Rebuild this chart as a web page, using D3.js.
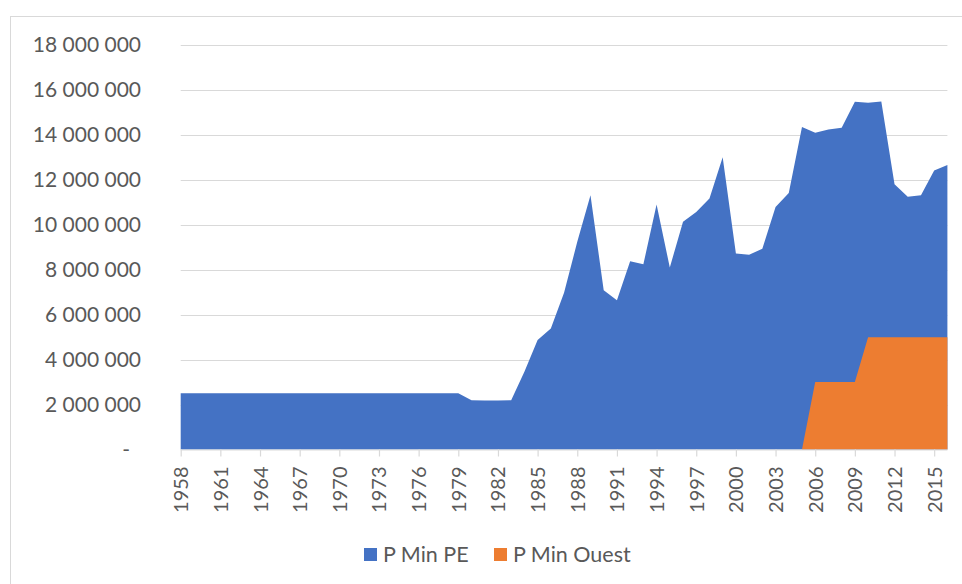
<!DOCTYPE html>
<html>
<head>
<meta charset="utf-8">
<script src="https://cdn.jsdelivr.net/npm/d3@7"></script>
<style>
  html, body { margin: 0; padding: 0; background: #ffffff; }
  svg { display: block; font-family: Lato, "Open Sans", sans-serif; }
</style>
</head>
<body>
<svg id="chart" width="962" height="584"></svg>
<script>
// Years on the category axis
const years = [
  1958, 1959, 1960, 1961, 1962, 1963, 1964, 1965, 1966, 1967,
  1968, 1969, 1970, 1971, 1972, 1973, 1974, 1975, 1976, 1977,
  1978, 1979, 1980, 1981, 1982, 1983, 1984, 1985, 1986, 1987,
  1988, 1989, 1990, 1991, 1992, 1993, 1994, 1995, 1996, 1997,
  1998, 1999, 2000, 2001, 2002, 2003, 2004, 2005, 2006, 2007,
  2008, 2009, 2010, 2011, 2012, 2013, 2014, 2015, 2016
];

// Series "P Min PE"
const pMinPE = [
  2500000, 2500000, 2500000, 2500000, 2500000, 2500000, 2500000, 2500000, 2500000, 2500000,
  2500000, 2500000, 2500000, 2500000, 2500000, 2500000, 2500000, 2500000, 2500000, 2500000,
  2500000, 2500000, 2190000, 2180000, 2180000, 2190000, 3460000, 4870000, 5390000, 6970000,
  9240000, 11310000, 7090000, 6640000, 8380000, 8240000, 10900000, 8100000, 10130000, 10570000,
  11170000, 13010000, 8720000, 8670000, 8930000, 10790000, 11410000, 14350000, 14100000, 14240000,
  14320000, 15470000, 15430000, 15490000, 11800000, 11250000, 11310000, 12420000, 12660000
];

// Series "P Min Ouest"
const pMinOuest = [
  0, 0, 0, 0, 0, 0, 0, 0, 0, 0,
  0, 0, 0, 0, 0, 0, 0, 0, 0, 0,
  0, 0, 0, 0, 0, 0, 0, 0, 0, 0,
  0, 0, 0, 0, 0, 0, 0, 0, 0, 0,
  0, 0, 0, 0, 0, 0, 0, 0, 3000000, 3000000,
  3000000, 3000000, 5000000, 5000000, 5000000, 5000000, 5000000, 5000000, 5000000
];

const seriesNames = ["P Min PE", "P Min Ouest"];
const seriesColors = ["#4472C4", "#ED7D31"];

// Axis ticks
const yTicks = [0, 2000000, 4000000, 6000000, 8000000, 10000000, 12000000, 14000000, 16000000, 18000000];
const xTickYears = [1958, 1961, 1964, 1967, 1970, 1973, 1976, 1979, 1982, 1985, 1988, 1991, 1994, 1997, 2000, 2003, 2006, 2009, 2012, 2015];

const svg = d3.select("#chart");

// Chart frame
svg.append("rect")
  .attr("x", 10.5).attr("y", 16.5)
  .attr("width", 980).attr("height", 600)
  .attr("fill", "none")
  .attr("stroke", "#D9D9D9")
  .attr("stroke-width", 1);

const plot = { left: 180.7, right: 947.4, top: 45, bottom: 449.5 };

const x = d3.scaleLinear().domain([years[0], years[years.length - 1]]).range([plot.left, plot.right]);
const y = d3.scaleLinear().domain([0, 18000000]).range([plot.bottom, plot.top]);

const locale = d3.formatLocale({ decimal: ",", thousands: "\u00a0", grouping: [3], currency: ["", " €"] });
const fmt = locale.format(",d");

// Horizontal gridlines
svg.append("g")
  .selectAll("line")
  .data(yTicks.filter(d => d > 0))
  .join("line")
  .attr("x1", plot.left).attr("x2", plot.right)
  .attr("y1", d => Math.round(y(d)) + 0.5).attr("y2", d => Math.round(y(d)) + 0.5)
  .attr("stroke", "#D9D9D9")
  .attr("stroke-width", 1.2);

// Areas (overlapping, not stacked)
const seriesData = [pMinPE, pMinOuest];
seriesData.forEach((vals, i) => {
  const area = d3.area()
    .x((d, j) => x(years[j]))
    .y0(y(0))
    .y1(d => y(d));
  svg.append("path")
    .datum(vals)
    .attr("d", area)
    .attr("fill", seriesColors[i]);
});

// Y axis labels
const yAxis = d3.axisLeft(y)
  .tickValues(yTicks)
  .tickSize(0)
  .tickPadding(0)
  .tickFormat(d => d === 0 ? "-" : fmt(d));
const gy = svg.append("g")
  .attr("transform", "translate(141,0)")
  .call(yAxis);
gy.select(".domain").remove();
gy.selectAll("text")
  .attr("fill", "#595959")
  .attr("font-size", 21)
  .attr("font-family", "Lato, 'Open Sans', sans-serif");
gy.selectAll(".tick").filter(d => d === 0).select("text").attr("x", -11);

// X axis
const xAxis = d3.axisBottom(x)
  .tickValues(xTickYears)
  .tickSize(7)
  .tickPadding(0)
  .tickFormat(d => String(d));
const gx = svg.append("g")
  .attr("transform", `translate(0,${plot.bottom})`)
  .call(xAxis);
gx.select(".domain")
  .attr("stroke", "#D9D9D9")
  .attr("stroke-width", 1.2)
  .attr("d", `M${plot.left},0.5H${plot.right}`);
gx.selectAll(".tick line").attr("stroke", "#D9D9D9").attr("stroke-width", 1.2);
gx.selectAll(".tick text")
  .attr("fill", "#595959")
  .attr("font-size", 20)
  .attr("font-family", "Lato, 'Open Sans', sans-serif")
  .attr("text-anchor", "end")
  .attr("transform", "rotate(-90)")
  .attr("x", -17)
  .attr("y", 0)
  .attr("dy", "0.35em");

// Legend
const legendItems = [
  { name: seriesNames[0], color: seriesColors[0], x: 364 },
  { name: seriesNames[1], color: seriesColors[1], x: 494 }
];
const lg = svg.append("g");
legendItems.forEach(it => {
  lg.append("rect")
    .attr("x", it.x).attr("y", 548)
    .attr("width", 13).attr("height", 13)
    .attr("fill", it.color);
  lg.append("text")
    .attr("x", it.x + 19).attr("y", 561.5)
    .attr("fill", "#595959")
    .attr("font-size", 21.5)
    .text(it.name);
});
</script>
</body>
</html>
